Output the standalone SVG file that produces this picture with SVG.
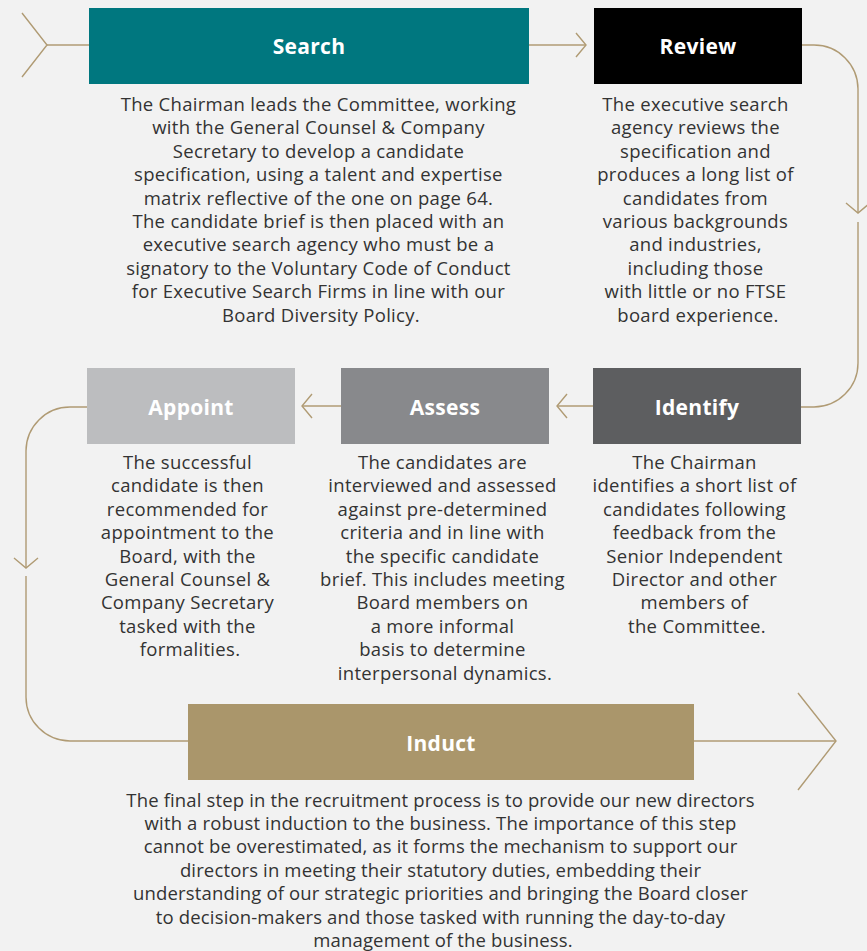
<svg xmlns="http://www.w3.org/2000/svg" width="867" height="951" viewBox="0 0 867 951">
<style>
.bg{fill:#f2f2f2}
.title{font-family:"Open Sans","Liberation Sans",sans-serif;font-weight:700;font-size:21px;letter-spacing:0.3px;fill:#ffffff;text-anchor:middle}
.body{font-family:"Open Sans","Liberation Sans",sans-serif;font-weight:400;font-size:18.5px;letter-spacing:0.3px;fill:#333333;text-anchor:middle}
.cond{letter-spacing:0.15px}
.con{fill:none;stroke:#b09b74;stroke-width:1.4}
</style>
<rect class="bg" x="0" y="0" width="867" height="951"/>
<g id="connectors">
<polyline class="con" points="22,13 47,45 22,77"/>
<line class="con" x1="47" y1="45" x2="89" y2="45"/>
<line class="con" x1="529" y1="45" x2="586" y2="45"/>
<polyline class="con" points="576,33 586,45 576,57"/>
<path class="con" d="M802,45 H814 A44,44 0 0 1 858,89 V213"/>
<polyline class="con" points="846,203 858,213 870,203"/>
<path class="con" d="M858,222 V363 A44,44 0 0 1 814,407 H801"/>
<line class="con" x1="593" y1="406" x2="557" y2="406"/>
<polyline class="con" points="567,394 557,406 567,418"/>
<line class="con" x1="341" y1="406" x2="302" y2="406"/>
<polyline class="con" points="312,394 302,406 312,418"/>
<path class="con" d="M87,407 H70 A44,44 0 0 0 26,451 V568"/>
<polyline class="con" points="14,558 26,568 38,558"/>
<path class="con" d="M26,576 V697 A44,44 0 0 0 70,741 H188"/>
<line class="con" x1="694" y1="741" x2="836" y2="741"/>
<polyline class="con" points="798,693 836,741 798,790"/>
</g>
<g id="search">
<rect x="89" y="8" width="440" height="76" fill="#00777f"/>
<text class="title" x="309" y="54">Search</text>
<text class="body">
<tspan x="321" y="111">The Chairman leads the Committee, working</tspan>
<tspan x="321" y="134.4">with the General Counsel &amp; Company</tspan>
<tspan x="321" y="157.8">Secretary to develop a candidate</tspan>
<tspan x="321" y="181.2">specification, using a talent and expertise</tspan>
<tspan x="321" y="204.6">matrix reflective of the one on page 64.</tspan>
<tspan x="321" y="228">The candidate brief is then placed with an</tspan>
<tspan x="321" y="251.4">executive search agency who must be a</tspan>
<tspan x="321" y="274.8">signatory to the Voluntary Code of Conduct</tspan>
<tspan x="321" y="298.2">for Executive Search Firms in line with our</tspan>
<tspan x="321" y="321.6">Board Diversity Policy.</tspan>
</text>
</g>
<g id="review">
<rect x="594" y="8" width="208" height="76" fill="#000000"/>
<text class="title" x="698" y="54">Review</text>
<text class="body">
<tspan x="698" y="111">The executive search</tspan>
<tspan x="698" y="134.4">agency reviews the</tspan>
<tspan x="698" y="157.8">specification and</tspan>
<tspan x="698" y="181.2">produces a long list of</tspan>
<tspan x="698" y="204.6">candidates from</tspan>
<tspan x="698" y="228">various backgrounds</tspan>
<tspan x="698" y="251.4">and industries,</tspan>
<tspan x="698" y="274.8">including those</tspan>
<tspan x="698" y="298.2">with little or no FTSE</tspan>
<tspan x="698" y="321.6">board experience.</tspan>
</text>
</g>
<g id="identify">
<rect x="593" y="368" width="208" height="76" fill="#5d5e60"/>
<text class="title" x="697" y="415">Identify</text>
<text class="body">
<tspan x="697" y="469">The Chairman</tspan>
<tspan x="697" y="492.4">identifies a short list of</tspan>
<tspan x="697" y="515.8">candidates following</tspan>
<tspan x="697" y="539.2">feedback from the</tspan>
<tspan x="697" y="562.6">Senior Independent</tspan>
<tspan x="697" y="586">Director and other</tspan>
<tspan x="697" y="609.4">members of</tspan>
<tspan x="697" y="632.8">the Committee.</tspan>
</text>
</g>
<g id="assess">
<rect x="341" y="368" width="208" height="76" fill="#88898c"/>
<text class="title" x="445" y="415">Assess</text>
<text class="body">
<tspan x="445" y="469">The candidates are</tspan>
<tspan x="445" y="492.4">interviewed and assessed</tspan>
<tspan x="445" y="515.8">against pre-determined</tspan>
<tspan x="445" y="539.2">criteria and in line with</tspan>
<tspan x="445" y="562.6">the specific candidate</tspan>
<tspan x="445" y="586">brief. This includes meeting</tspan>
<tspan x="445" y="609.4">Board members on</tspan>
<tspan x="445" y="632.8">a more informal</tspan>
<tspan x="445" y="656.2">basis to determine</tspan>
<tspan x="445" y="679.6">interpersonal dynamics.</tspan>
</text>
</g>
<g id="appoint">
<rect x="87" y="368" width="208" height="76" fill="#bcbdbf"/>
<text class="title" x="191" y="415">Appoint</text>
<text class="body">
<tspan x="190" y="469">The successful</tspan>
<tspan x="190" y="492.4">candidate is then</tspan>
<tspan x="190" y="515.8">recommended for</tspan>
<tspan x="190" y="539.2">appointment to the</tspan>
<tspan x="190" y="562.6">Board, with the</tspan>
<tspan x="190" y="586">General Counsel &amp;</tspan>
<tspan x="190" y="609.4">Company Secretary</tspan>
<tspan x="190" y="632.8">tasked with the</tspan>
<tspan x="190" y="656.2">formalities.</tspan>
</text>
</g>
<g id="induct">
<rect x="188" y="704" width="506" height="76" fill="#aa966b"/>
<text class="title" x="441" y="751">Induct</text>
<text class="body cond">
<tspan x="443" y="806.5">The final step in the recruitment process is to provide our new directors</tspan>
<tspan x="443" y="829.9">with a robust induction to the business. The importance of this step</tspan>
<tspan x="443" y="853.3">cannot be overestimated, as it forms the mechanism to support our</tspan>
<tspan x="443" y="876.7">directors in meeting their statutory duties, embedding their</tspan>
<tspan x="443" y="900.1">understanding of our strategic priorities and bringing the Board closer</tspan>
<tspan x="443" y="923.5">to decision-makers and those tasked with running the day-to-day</tspan>
<tspan x="443" y="946.9">management of the business.</tspan>
</text>
</g>
</svg>
